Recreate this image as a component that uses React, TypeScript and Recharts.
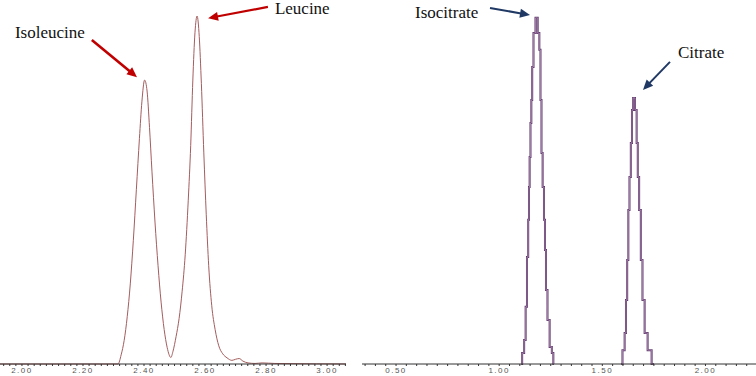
import { LineChart, Line, XAxis, YAxis, ReferenceLine, ReferenceDot } from "recharts";

// Leucine / isoleucine trace (retention time, min vs. relative intensity %)
const leuTime = [
  1.9, 2.315, 2.325, 2.335, 2.345, 2.355, 2.365, 2.375, 2.385, 2.393, 2.402, 2.41, 2.418,
  2.426, 2.436, 2.446, 2.456, 2.466, 2.476, 2.488, 2.495, 2.505, 2.515, 2.525, 2.535,
  2.545, 2.553, 2.56, 2.567, 2.574, 2.581, 2.588, 2.596, 2.604, 2.612, 2.622, 2.633,
  2.645, 2.658, 2.672, 2.688, 2.7, 2.712, 2.724, 2.741, 2.764, 2.787, 2.829, 3.1,
];
const leuSignal = [
  0, 0, 2.5, 6.5, 13, 22, 34, 48, 62, 72, 78, 75, 65,
  53, 39, 27, 17, 9.5, 4.5, 1.8, 3.5, 7.5, 12.5, 20, 30,
  45, 60, 78, 91, 95.6, 90, 77, 58, 41, 27, 16, 9.5,
  5, 2.8, 1.7, 1.0, 1.3, 1.5, 0.8, 0.3, 0.15, 0.3, 0.15, 0,
];

// Isocitrate / citrate trace (null splits the two peaks)
const citTime = [
  1.1057, 1.1169, 1.1251, 1.1314, 1.1382, 1.1431, 1.146, 1.1493, 1.1542, 1.1576,
  1.1625, 1.1702, 1.1819, 1.1916, 1.1978, 1.2027, 1.2075, 1.2138, 1.2206, 1.2235, 1.2303,
  1.2381, 1.2511, 1.2594, 1.2657, 1.42,
  1.5905, 1.605, 1.6113, 1.6181, 1.623, 1.6293, 1.6341, 1.6423, 1.6452, 1.6535, 1.6632,
  1.6695, 1.6743, 1.6826, 1.6908, 1.6986, 1.7116, 1.7276, 1.7504,
];
const citSignal = [
  0, 3.0, 6.6, 15.7, 29.4, 39.6, 48.6, 56.9, 66.2, 72.5,
  81.6, 90.9, 95.1, 90.9, 86.3, 72.5, 58.0, 48.6, 39.6, 31.3, 20.3,
  12.1, 4.7, 3.0, 0, null,
  0, 3.8, 8.5, 17.6, 28.6, 42.3, 51.4, 60.7, 69.8, 73.1, 69.8,
  60.7, 51.4, 42.3, 28.6, 17.6, 8.5, 3.8, 0,
];

const leuLabels = ["2.00", "2.20", "2.40", "2.60", "2.80", "3.00"];
const citLabels = ["0.50", "1.00", "1.50", "2.00"];

const leuData = leuTime.map((t, i) => ({ t, v: leuSignal[i] }));
const citData = citTime.map((t, i) => ({ t, v: citSignal[i] }));

function minorTicks(start: number, end: number, step: number) {
  const out: number[] = [];
  const n = Math.round((end - start) / step);
  for (let i = 0; i <= n; i++) out.push(+(start + i * step).toFixed(3));
  return out;
}

const LABEL_FONT = "'Liberation Serif', 'Times New Roman', serif";

function makeTick(labels: string[]) {
  return ({ x, y, payload }: any) => {
    const s = Number(payload.value).toFixed(2);
    if (!labels.includes(s)) return <g />;
    return (
      <text
        x={x}
        y={y}
        dy={6}
        textAnchor="middle"
        fontSize={8}
        letterSpacing={1.5}
        fill="#555"
        fontFamily="Arial, 'Liberation Sans', sans-serif"
      >
        {s}
      </text>
    );
  };
}

function arrowShape(color: string, width: number) {
  return (p: any) => {
    const { x1, y1, x2, y2 } = p;
    const dx = x2 - x1;
    const dy = y2 - y1;
    const len = Math.hypot(dx, dy) || 1;
    const ux = dx / len;
    const uy = dy / len;
    const hl = 10;
    const hw = 4.5;
    const bx = x2 - ux * hl;
    const by = y2 - uy * hl;
    return (
      <g>
        <line x1={x1} y1={y1} x2={bx + ux} y2={by + uy} stroke={color} strokeWidth={width} />
        <polygon
          points={`${x2},${y2} ${bx - uy * hw},${by + ux * hw} ${bx + uy * hw},${by - ux * hw}`}
          fill={color}
        />
      </g>
    );
  };
}

function textShape(label: string) {
  return (p: any) => (
    <text x={p.cx} y={p.cy} fontSize={17} fontFamily={LABEL_FONT} fill="#111">
      {label}
    </text>
  );
}

const RED = "#c00000";
const NAVY = "#1f3864";

export default function App() {
  return (
    <div style={{ position: "fixed", left: 0, top: 0, width: 756, height: 376, background: "#fff" }}>
      <div style={{ position: "absolute", left: 0, top: 0 }}>
        <LineChart width={346} height={376} data={leuData} margin={{ top: 0, right: 0, bottom: 0, left: 0 }}>
          <XAxis
            dataKey="t"
            type="number"
            domain={[1.928, 3.062]}
            allowDataOverflow
            ticks={minorTicks(1.94, 3.06, 0.02)}
            interval={0}
            tick={makeTick(leuLabels)}
            tickSize={2}
            tickMargin={1}
            height={12}
            stroke="#333"
          />
          <YAxis hide domain={[0, 100]} />
          <Line
            type="monotone"
            dataKey="v"
            stroke="#a35d5d"
            strokeWidth={1}
            dot={false}
            isAnimationActive={false}
          />
          <ReferenceLine
            segment={[{ x: 2.229, y: 89.0 }, { x: 2.377, y: 78.8 }]}
            shape={arrowShape(RED, 2.6)}
          />
          <ReferenceLine
            segment={[{ x: 2.806, y: 98.1 }, { x: 2.61, y: 95.0 }]}
            shape={arrowShape(RED, 2.2)}
          />
          <ReferenceDot x={1.977} y={89.6} r={0} shape={textShape("Isoleucine")} />
          <ReferenceDot x={2.829} y={96.1} r={0} shape={textShape("Leucine")} />
        </LineChart>
      </div>
      <div style={{ position: "absolute", left: 362, top: 0 }}>
        <LineChart width={394} height={376} data={citData} margin={{ top: 0, right: 0, bottom: 0, left: 0 }}>
          <XAxis
            dataKey="t"
            type="number"
            domain={[0.335, 2.245]}
            allowDataOverflow
            ticks={minorTicks(0.35, 2.2, 0.05)}
            interval={0}
            tick={makeTick(citLabels)}
            tickSize={2}
            tickMargin={1}
            height={12}
            stroke="#333"
          />
          <YAxis hide domain={[0, 100]} />
          <Line
            type="step"
            dataKey="v"
            stroke="#5a3868"
            strokeWidth={2}
            dot={false}
            isAnimationActive={false}
          />
          <Line
            type="step"
            dataKey="v"
            stroke="#d2a6d2"
            strokeWidth={0.6}
            dot={false}
            isAnimationActive={false}
          />
          <ReferenceLine
            segment={[{ x: 0.9555, y: 97.8 }, { x: 1.1494, y: 95.9 }]}
            shape={arrowShape(NAVY, 2)}
          />
          <ReferenceLine
            segment={[{ x: 1.828, y: 83.0 }, { x: 1.697, y: 75.3 }]}
            shape={arrowShape(NAVY, 2)}
          />
          <ReferenceDot x={0.5919} y={95.1} r={0} shape={textShape("Isocitrate")} />
          <ReferenceDot x={1.867} y={84.1} r={0} shape={textShape("Citrate")} />
        </LineChart>
      </div>
    </div>
  );
}
